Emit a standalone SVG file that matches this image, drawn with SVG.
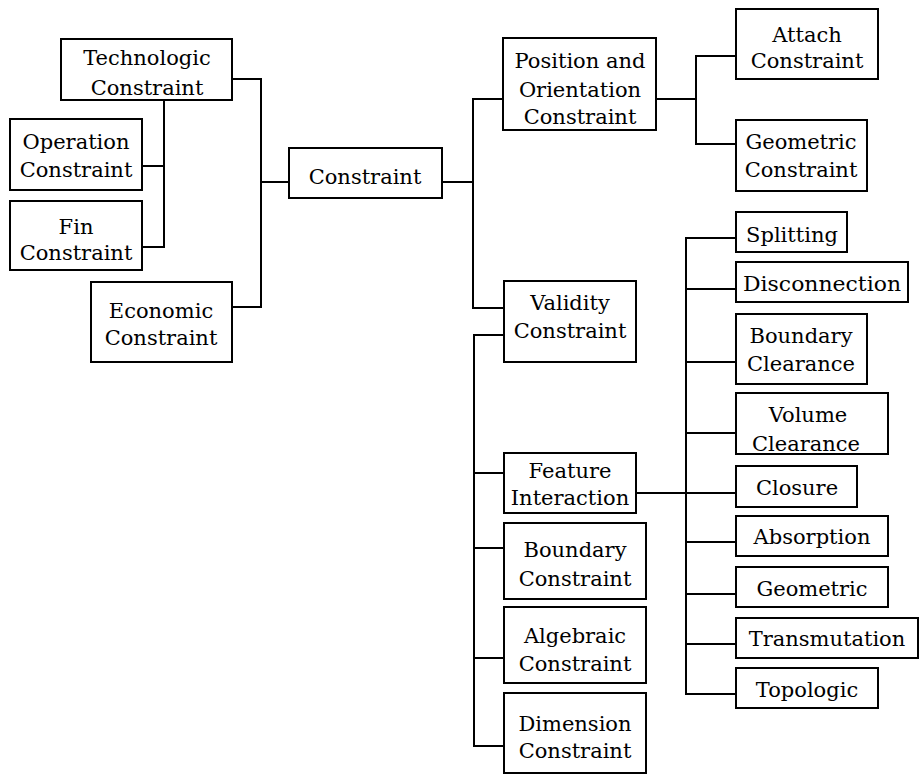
<svg xmlns="http://www.w3.org/2000/svg" width="919" height="774" viewBox="0 0 919 774">
<style>
rect{fill:#fff;stroke:#000;stroke-width:2}
text{font-family:"DejaVu Serif","Liberation Serif",serif;font-size:21px;fill:#000;text-anchor:middle}
.c path{fill:none;stroke:#000;stroke-width:2}
</style>
<rect x="0" y="0" width="919" height="774" style="stroke:none"/>
<g class="c" id="connectors">
<path d="M232 79H261V307H232M261 182H289"/>
<path d="M164 100V247H142M142 166H164"/>
<path d="M442 182H473M503 99H473V308H504"/>
<path d="M656 99H696M736 56H696V144H736"/>
<path d="M504 335H474V746H504M474 473H504M474 548H504M474 658H504"/>
<path d="M636 493H736M736 238H686V694H736M686 289H736M686 362H736M686 433H736M686 542H736M686 594H736M686 644H736"/>
</g>
<g id="technologic"><rect x="61" y="39" width="171" height="61"/><text x="147" y="65">Technologic</text><text x="147" y="95">Constraint</text></g>
<g id="operation"><rect x="10" y="119" width="132" height="71"/><text x="76" y="149">Operation</text><text x="76" y="177">Constraint</text></g>
<g id="fin"><rect x="10" y="201" width="132" height="69"/><text x="76" y="234">Fin</text><text x="76" y="260">Constraint</text></g>
<g id="economic"><rect x="91" y="282" width="141" height="80"/><text x="161" y="318">Economic</text><text x="161" y="345">Constraint</text></g>
<g id="constraint"><rect x="289" y="148" width="153" height="50"/><text x="365" y="184">Constraint</text></g>
<g id="position"><rect x="503" y="38" width="153" height="92"/><text x="580" y="68">Position and</text><text x="580" y="97">Orientation</text><text x="580" y="124">Constraint</text></g>
<g id="attach"><rect x="736" y="9" width="142" height="70"/><text x="807" y="42">Attach</text><text x="807" y="68">Constraint</text></g>
<g id="geometric-constraint"><rect x="736" y="120" width="131" height="71"/><text x="801" y="149">Geometric</text><text x="801" y="177">Constraint</text></g>
<g id="validity"><rect x="504" y="281" width="132" height="81"/><text x="570" y="310">Validity</text><text x="570" y="338">Constraint</text></g>
<g id="feature"><rect x="504" y="453" width="132" height="60"/><text x="570" y="478">Feature</text><text x="570" y="505">Interaction</text></g>
<g id="boundary-constraint"><rect x="504" y="523" width="142" height="76"/><text x="575" y="557">Boundary</text><text x="575" y="586">Constraint</text></g>
<g id="algebraic"><rect x="504" y="607" width="142" height="76"/><text x="575" y="643">Algebraic</text><text x="575" y="671">Constraint</text></g>
<g id="dimension"><rect x="504" y="693" width="142" height="80"/><text x="575" y="731">Dimension</text><text x="575" y="758">Constraint</text></g>
<g id="splitting"><rect x="736" y="212" width="111" height="40"/><text x="792" y="242">Splitting</text></g>
<g id="disconnection"><rect x="736" y="262" width="172" height="40"/><text x="822" y="291" textLength="158" lengthAdjust="spacingAndGlyphs">Disconnection</text></g>
<g id="boundary-clearance"><rect x="736" y="314" width="131" height="70"/><text x="801" y="343">Boundary</text><text x="801" y="371">Clearance</text></g>
<g id="volume-clearance"><rect x="736" y="393" width="152" height="61"/><text x="808" y="422">Volume</text><text x="806" y="451">Clearance</text></g>
<g id="closure"><rect x="736" y="466" width="121" height="41"/><text x="797" y="495">Closure</text></g>
<g id="absorption"><rect x="736" y="516" width="152" height="40"/><text x="812" y="544">Absorption</text></g>
<g id="geometric"><rect x="736" y="567" width="152" height="40"/><text x="812" y="596">Geometric</text></g>
<g id="transmutation"><rect x="736" y="618" width="182" height="40"/><text x="827" y="646">Transmutation</text></g>
<g id="topologic"><rect x="736" y="668" width="142" height="40"/><text x="807" y="697">Topologic</text></g>
</svg>
